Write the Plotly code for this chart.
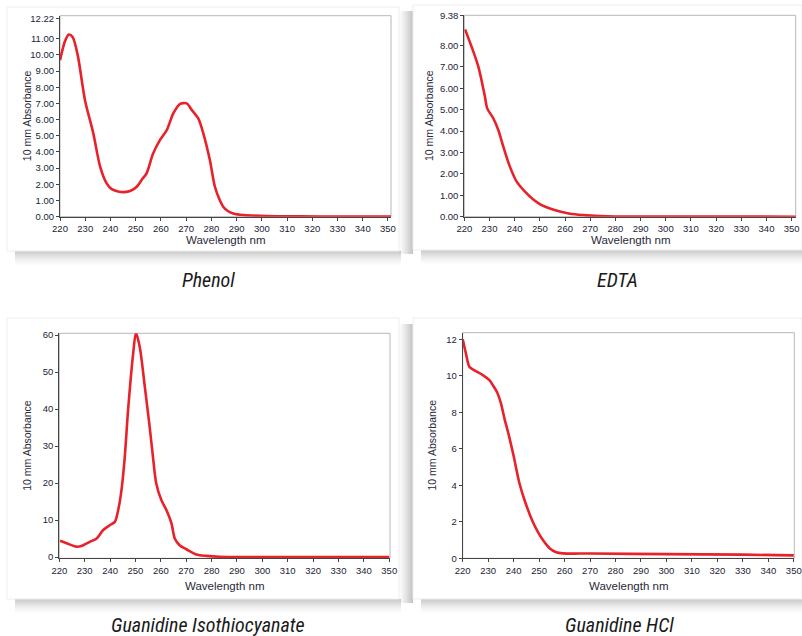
import plotly.graph_objects as go

W, H = 802, 636

# ---------------- data ----------------
phenol_nm = [220, 222, 223.5, 225, 227, 229.9, 233.2, 235.9, 238.5, 240.5, 243, 245.5, 248, 250.4,
             252.5, 254.3, 256.9, 259.6, 262.3, 264.9, 267.5, 270.2, 272.2, 274.8, 276.8, 279.4,
             281.4, 283.4, 284.7, 286.5, 288.7, 292.7, 302, 315, 330, 352]
phenol_abs = [9.67, 10.85, 11.26, 11.1, 10.0, 7.2, 5.15, 3.1, 2.06, 1.7, 1.56, 1.52, 1.6, 1.85,
              2.3, 2.68, 3.9, 4.73, 5.35, 6.38, 6.96, 7.0, 6.6, 6.07, 5.15, 3.5,
              1.85, 1.0, 0.62, 0.35, 0.2, 0.1, 0.04, 0.02, 0.01, 0.01]

edta_nm = [220.3, 222.9, 225.6, 228.2, 229.1, 231.5, 233.5, 235.5, 238.1, 240.8, 244.1, 247.4,
           250.5, 254, 258, 262, 267, 273.8, 280, 300, 330, 352]
edta_abs = [8.75, 7.94, 7.0, 5.6, 5.06, 4.6, 4.05, 3.27, 2.34, 1.64, 1.17, 0.8,
            0.55, 0.38, 0.24, 0.14, 0.08, 0.03, 0.01, 0.01, 0.01, 0.0]

gitc_nm = [220.3, 222.9, 226.8, 228.8, 232, 234.7, 237.3, 239.9, 241.9, 243.2, 244.5, 245.8,
           247.1, 249.1, 250.2, 251.7, 253.7, 255.6, 256.9, 258.2, 260.2, 262.2, 264.2, 265.5,
           267.4, 270.1, 274, 277.9, 283.2, 300, 350]
gitc_abs = [4.4, 3.7, 2.8, 3.0, 4.1, 5.0, 7.3, 8.6, 9.5, 12.7, 18.1, 27.1,
            39.7, 55.0, 60.6, 56.8, 46.0, 35.2, 27.1, 19.9, 15.4, 12.7, 9.1, 5.0,
            3.2, 2.1, 0.7, 0.3, 0.05, 0.0, 0.0]

ghcl_nm = [220, 221.3, 222.6, 224.6, 227.9, 230.5, 232, 233.5, 235, 236.5, 238, 240, 242.3,
           244.5, 247.5, 249.5, 251.5, 254.1, 256.7, 259.3, 270, 300, 330, 350]
ghcl_abs = [12.0, 11.2, 10.5, 10.3, 10.04, 9.76, 9.45, 9.1, 8.5, 7.6, 6.8, 5.6, 4.1,
            3.1, 2.0, 1.45, 1.0, 0.55, 0.33, 0.27, 0.26, 0.23, 0.2, 0.16]

x_ticks = list(range(220, 351, 10))
phenol_yticks = [0, 1, 2, 3, 4, 5, 6, 7, 8, 9, 10, 11, 12.22]
edta_yticks = [0, 1, 2, 3, 4, 5, 6, 7, 8, 9.38]
gitc_yticks = [0, 10, 20, 30, 40, 50, 60]
ghcl_yticks = [0, 2, 4, 6, 8, 10, 12]

captions = ["Phenol", "EDTA", "Guanidine Isothiocyanate", "Guanidine HCl"]
y_title = "10 mm Absorbance"
x_title = "Wavelength nm"

# ---------------- layout helpers ----------------
def px(x):
    return x / W

def py(y):
    return 1 - y / H

RED = "#e8212a"
TICK_COLOR = "#1c1c36"
AXIS_COLOR = "#444444"

panels = [
    dict(nm=phenol_nm, ab=phenol_abs, yt=phenol_yticks, fmt="{:.2f}",
         dom=(60, 391, 15.7, 216.7), xr=[220, 351.2], yr=[0, 12.42],
         ytx=27, xty=240, cap=(208, 280)),
    dict(nm=edta_nm, ab=edta_abs, yt=edta_yticks, fmt="{:.2f}",
         dom=(464.3, 795.7, 15.3, 216.7), xr=[220, 351.6], yr=[0, 9.41],
         ytx=429, xty=240, cap=(617, 280)),
    dict(nm=gitc_nm, ab=gitc_abs, yt=gitc_yticks, fmt="{:.0f}",
         dom=(59.3, 390, 333.3, 558.3), xr=[220, 350.3], yr=[-0.35, 60.5],
         ytx=27, xty=586, cap=(208, 625)),
    dict(nm=ghcl_nm, ab=ghcl_abs, yt=ghcl_yticks, fmt="{:.0f}",
         dom=(462.7, 794.3, 332.7, 558.3), xr=[220, 350.2], yr=[0, 12.36],
         ytx=431, xty=586, cap=(619, 625)),
]

fig = go.Figure()
shapes = []
annotations = []

# cards with soft shadows
cards = [(7, 399, 7, 251), (413, 802, 5, 250), (7, 399, 318, 599), (413, 802, 318, 599)]
for (x0, x1, y0, y1) in cards:
    for i in range(15):
        op = 0.30 * (1 - i / 15) ** 1.5
        shapes.append(dict(type="rect", xref="paper", yref="paper", layer="below",
                           x0=px(x0 + 8), x1=px(min(x1 + 2, W)), y0=py(y1 + i + 1), y1=py(y1 + i),
                           fillcolor=f"rgba(80,80,80,{op:.3f})", line=dict(width=0)))
    if x0 > 400:
        for i in range(14):
            op = 0.34 * (1 - i / 14) ** 1.2
            shapes.append(dict(type="rect", xref="paper", yref="paper", layer="below",
                               x0=px(x0 - i - 1), x1=px(x0 - i), y0=py(y1 + 4), y1=py(y0 + 6),
                               fillcolor=f"rgba(80,80,80,{op:.3f})", line=dict(width=0)))
for (x0, x1, y0, y1) in cards:
    shapes.append(dict(type="rect", xref="paper", yref="paper", layer="below",
                       x0=px(x0), x1=px(x1), y0=py(y1), y1=py(y0),
                       fillcolor="white", line=dict(color="#eeeeee", width=1)))

for i, p in enumerate(panels):
    n = "" if i == 0 else str(i + 1)
    xa, ya = "x" + n, "y" + n
    fig.add_trace(go.Scatter(x=p["nm"], y=p["ab"], mode="lines", xaxis=xa, yaxis=ya,
                             line=dict(color=RED, width=2.6, shape="spline", smoothing=0.8),
                             showlegend=False, hoverinfo="skip"))
    x0, x1, y0, y1 = p["dom"]
    common = dict(showgrid=False, zeroline=False, showline=True, linecolor=AXIS_COLOR,
                  linewidth=1, ticks="outside", ticklen=3, tickcolor=AXIS_COLOR, automargin=False,
                  tickfont=dict(family="Arial, Liberation Sans, sans-serif", size=9.5, color=TICK_COLOR),
                  fixedrange=True)
    fig.update_layout(**{
        "xaxis" + n: dict(domain=[px(x0), px(x1)], range=p["xr"], anchor=ya,
                          tickvals=x_ticks, ticktext=[str(v) for v in x_ticks], **common),
        "yaxis" + n: dict(domain=[py(y1), py(y0)], range=p["yr"], anchor=xa,
                          tickvals=p["yt"], ticktext=[p["fmt"].format(v) for v in p["yt"]], **common),
    })
    shapes.append(dict(type="rect", xref=xa + " domain", yref=ya + " domain",
                       x0=0, x1=1, y0=0, y1=1, line=dict(color="#b8b8b8", width=1), layer="below"))
    annotations.append(dict(text=y_title, x=px(p["ytx"]), y=py((y0 + y1) / 2), xref="paper", yref="paper",
                            xanchor="center", yanchor="middle", showarrow=False, textangle=-90,
                            font=dict(family="Arial, Liberation Sans, sans-serif", size=10.5, color="#2a2a3a")))
    annotations.append(dict(text=x_title, x=px((x0 + x1) / 2), y=py(p["xty"]), xref="paper", yref="paper",
                            xanchor="center", yanchor="middle", showarrow=False,
                            font=dict(family="Arial, Liberation Sans, sans-serif", size=11.5, color="#2a2a3a")))
    annotations.append(dict(text="<i>" + captions[i] + "</i>", x=px(p["cap"][0]), y=py(p["cap"][1]),
                            xref="paper", yref="paper", xanchor="center", yanchor="middle", showarrow=False,
                            font=dict(family="Liberation Sans Narrow, Roboto Condensed, Arial Narrow, sans-serif",
                                      size=20, color="#1a1a1a")))

fig.update_layout(width=W, height=H, margin=dict(l=0, r=0, t=0, b=0, pad=0, autoexpand=False),
                  paper_bgcolor="white", plot_bgcolor="rgba(0,0,0,0)",
                  shapes=shapes, annotations=annotations, showlegend=False)

fig.write_html("out.html", config={"displayModeBar": False, "staticPlot": True},
               post_script="document.body.style.margin='0';document.body.style.padding='0';"
                           "document.body.style.overflow='hidden';")
